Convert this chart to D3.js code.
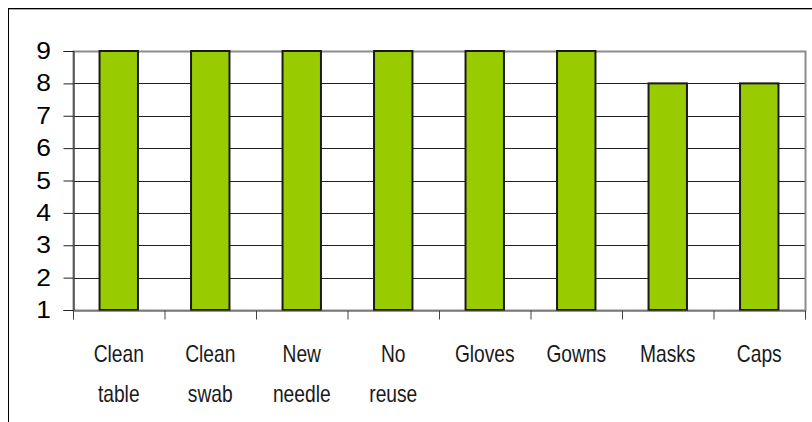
<!DOCTYPE html>
<html>
<head>
<meta charset="utf-8">
<script src="https://cdn.jsdelivr.net/npm/d3@7"></script>
<style>
  body { margin: 0; background: #fff; }
  svg { display: block; }
</style>
</head>
<body>
<div id="chart"></div>
<script>
// Categories (two-line labels) and values
const categories = [
  ["Clean", "table"], ["Clean", "swab"], ["New", "needle"], ["No", "reuse"],
  ["Gloves"], ["Gowns"], ["Masks"], ["Caps"]
];
const values = [9, 9, 9, 9, 9, 9, 8, 8];
const yTicks = [1, 2, 3, 4, 5, 6, 7, 8, 9];

const width = 812, height = 422;
const margin = { top: 51, right: 7, bottom: 112, left: 73 };

const svg = d3.select("#chart").append("svg")
  .attr("width", width)
  .attr("height", height);

// outer chart frame (only top + left visible in the crop)
svg.append("line").attr("x1", 8).attr("x2", width).attr("y1", 8.5).attr("y2", 8.5)
  .attr("stroke", "#000").attr("stroke-width", 1);
svg.append("line").attr("x1", 8).attr("x2", width).attr("y1", 9.5).attr("y2", 9.5)
  .attr("stroke", "#aaa").attr("stroke-width", 1);
svg.append("line").attr("x1", 8.5).attr("x2", 8.5).attr("y1", 8).attr("y2", height)
  .attr("stroke", "#000").attr("stroke-width", 1);

const x = d3.scaleBand()
  .domain(categories.map((d, i) => i))
  .range([margin.left, width - margin.right])
  .paddingInner(0.58).paddingOuter(0.29);

const xTicks = d3.scaleLinear()
  .domain([0, categories.length])
  .range([margin.left, width - margin.right]);

const y = d3.scaleLinear()
  .domain([1, 9])
  .range([height - margin.bottom, margin.top]);

// gridlines
svg.append("g")
  .selectAll("line")
  .data(yTicks.slice(1, -1))
  .join("line")
  .attr("x1", margin.left).attr("x2", width - margin.right)
  .attr("y1", d => Math.round(y(d)) + 0.5).attr("y2", d => Math.round(y(d)) + 0.5)
  .attr("stroke", "#222");

// plot frame (gray)
svg.append("rect")
  .attr("x", margin.left + 0.5).attr("y", margin.top + 0.5)
  .attr("width", width - margin.right - margin.left)
  .attr("height", y(1) - margin.top)
  .attr("fill", "none")
  .attr("stroke", "#8c8c8c").attr("stroke-width", 2);

// bars
svg.append("g")
  .selectAll("rect")
  .data(values)
  .join("rect")
  .attr("x", (d, i) => x(i))
  .attr("y", d => y(d))
  .attr("width", x.bandwidth())
  .attr("height", d => y(1) - y(d))
  .attr("fill", "#99cc00")
  .attr("stroke", "#1a1a1a")
  .attr("stroke-width", 2);

// y axis
const yAxis = svg.append("g")
  .attr("transform", `translate(${margin.left + 0.5},0)`)
  .call(d3.axisLeft(y).tickValues(yTicks).tickSize(10).tickFormat(""));
yAxis.select(".domain").attr("stroke", "#222");
yAxis.selectAll(".tick line").attr("stroke", "#222");

// y tick labels
svg.append("g")
  .selectAll("text")
  .data(yTicks)
  .join("text")
  .attr("transform", d => `translate(51,${y(d) + 8}) scale(1.1,1)`)
  .attr("text-anchor", "end")
  .attr("font-family", "Liberation Sans, Arial, sans-serif")
  .attr("font-size", 24)
  .attr("fill", "#000")
  .text(d => d);

// x axis line + ticks at category boundaries
const xAxis = svg.append("g")
  .attr("transform", `translate(0,${y(1) + 0.5})`)
  .call(d3.axisBottom(xTicks).tickValues(d3.range(categories.length + 1)).tickSize(9).tickFormat(""));
xAxis.select(".domain").attr("stroke", "#666");
xAxis.selectAll(".tick line").attr("stroke", "#444");

// x labels (two lines, condensed)
const labels = svg.append("g")
  .selectAll("text")
  .data(categories)
  .join("text")
  .attr("transform", (d, i) => `translate(${x(i) + x.bandwidth() / 2},362) scale(0.8,1)`)
  .attr("text-anchor", "middle")
  .attr("font-family", "Liberation Sans, Arial, sans-serif")
  .attr("font-size", 24)
  .attr("fill", "#1a1a1a");
labels.selectAll("tspan")
  .data(d => d)
  .join("tspan")
  .attr("x", 0)
  .attr("dy", (d, i) => i === 0 ? 0 : 40)
  .text(d => d);
</script>
</body>
</html>
